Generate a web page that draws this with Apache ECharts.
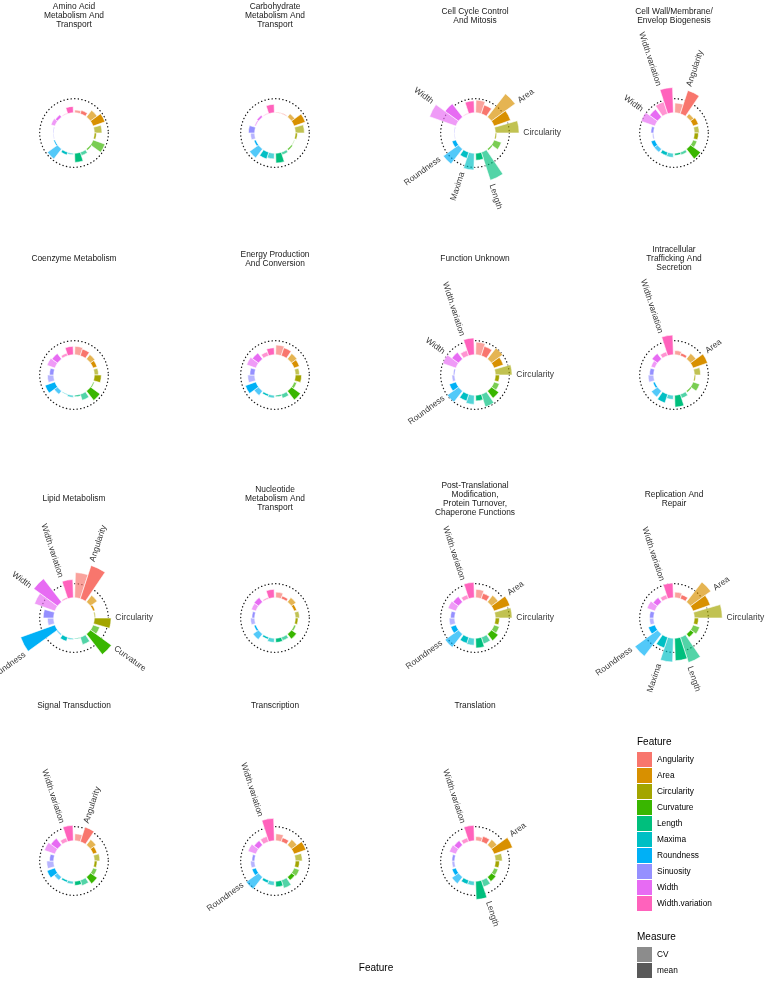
<!DOCTYPE html>
<html><head><meta charset="utf-8">
<script src="https://cdn.jsdelivr.net/npm/echarts@6/dist/echarts.min.js"></script>
<style>html,body{margin:0;padding:0;background:#fff}#c{width:767px;height:981px}</style>
</head><body><div id="c"></div>
<script>
const features = ['Angularity','Area','Circularity','Curvature','Length','Maxima','Roundness','Sinuosity','Width','Width.variation'];
const featureColors = ['#F8766D','#D89000','#A3A500','#39B600','#00BF7D','#00BFC4','#00B0F6','#9590FF','#E76BF3','#FF62BC'];
const measures = ['CV','mean'];
const measureColors = ['#8C8C8C','#595959'];

const panelTitles = [
  'Amino Acid\nMetabolism And\nTransport','Carbohydrate\nMetabolism And\nTransport','Cell Cycle Control\nAnd Mitosis','Cell Wall/Membrane/\nEnvelop Biogenesis',
  'Coenzyme Metabolism','Energy Production\nAnd Conversion','Function Unknown','Intracellular\nTrafficking And\nSecretion',
  'Lipid Metabolism','Nucleotide\nMetabolism And\nTransport','Post-Translational\nModification,\nProtein Turnover,\nChaperone Functions','Replication And\nRepair',
  'Signal Transduction','Transcription','Translation'
];

// values per panel, feature order as in `features`
const cv_amino   = [0.2,0.6,0.55,0.9,0.25,0.1,0.9,0.05,0.3,0.05];
const mean_amino = [0.25,0.9,0.15,0.1,0.65,0.2,0.1,0.05,0.2,0.45];
const cv_carb    = [0.05,0.3,0.65,0.05,0.2,0.4,0.8,0.3,0.1,0.05];
const mean_carb  = [0.05,0.85,0.15,0.1,0.7,0.5,0.15,0.45,0.15,0.6];
const cv_cycle   = [0.9,2.1,1.7,0.55,2.1,1.2,1.35,0.05,2.0,0.05];
const mean_cycle = [0.65,1.25,0.1,0.1,0.5,0.45,0.3,0.05,1.2,0.85];
const cv_wall    = [0.7,0.3,0.35,0.3,0.2,0.3,0.3,0.1,1.05,0.9];
const mean_wall  = [1.75,0.4,0.3,0.9,0.15,0.25,0.3,0.2,0.7,1.8];
const cv_coenz   = [0.6,0.4,0.3,0.1,0.45,0.15,0.3,0.45,0.6,0.2];
const mean_coenz = [0.5,0.3,0.5,0.85,0.1,0.05,0.75,0.3,0.5,0.6];
const cv_energy  = [0.7,0.5,0.3,0.2,0.3,0.2,0.4,0.5,0.7,0.3];
const mean_energy= [0.6,0.4,0.45,0.8,0.1,0.15,0.8,0.35,0.55,0.5];
const cv_unknown = [0.9,1.0,1.2,0.4,0.95,0.65,1.0,0.2,1.0,0.4];
const mean_unknown=[0.7,0.7,0.3,0.65,0.4,0.5,0.5,0.1,0.6,1.2];
const cv_intra   = [0.3,0.5,0.45,0.5,0.3,0.3,0.55,0.4,0.3,0.3];
const mean_intra = [0.2,1.1,0.1,0.1,0.85,0.65,0.15,0.3,0.5,1.4];
const cv_lipid   = [1.8,0.6,0.1,0.5,0.55,0.1,0.1,0.45,1.55,0.1];
const mean_lipid = [2.5,0.15,1.2,1.85,0.05,0.3,2.6,0.75,2.1,1.3];
const cv_nucl    = [0.4,0.4,0.3,0.15,0.25,0.3,0.5,0.3,0.35,0.1];
const mean_nucl  = [0.2,0.2,0.2,0.45,0.3,0.15,0.15,0.2,0.4,0.6];
const cv_post    = [0.6,0.6,1.2,0.4,0.5,0.5,1.2,0.4,0.6,0.3];
const mean_post  = [0.4,1.2,0.3,0.6,0.7,0.45,0.4,0.3,0.5,1.1];
const cv_repl    = [0.4,1.8,2.0,0.5,1.9,1.7,2.0,0.3,0.6,0.3];
const mean_repl  = [0.3,1.3,0.3,0.3,1.6,0.8,0.5,0.3,0.4,1.05];
const cv_signal  = [0.5,0.5,0.4,0.3,0.4,0.2,0.3,0.5,0.8,0.3];
const mean_signal= [1.1,0.3,0.2,0.6,0.3,0.15,0.6,0.3,0.6,1.1];
const cv_transc  = [0.5,0.5,0.5,0.4,0.6,0.3,1.1,0.3,0.6,0.4];
const mean_transc= [0.3,0.9,0.3,0.3,0.4,0.2,0.3,0.2,0.4,1.6];
const cv_transl  = [0.3,0.5,0.5,0.3,0.5,0.3,0.6,0.2,0.5,0.3];
const mean_transl= [0.4,1.4,0.3,0.4,1.3,0.3,0.3,0.2,0.4,1.1];

const labels_cycle   = ['Area','Circularity','Length','Maxima','Roundness','Width'];
const labels_wall    = ['Angularity','Width','Width.variation'];
const labels_unknown = ['Circularity','Roundness','Width','Width.variation'];
const labels_intra   = ['Area','Width.variation'];
const labels_lipid   = ['Angularity','Circularity','Curvature','Roundness','Width','Width.variation'];
const labels_post    = ['Area','Circularity','Roundness','Width.variation'];
const labels_repl    = ['Area','Circularity','Length','Maxima','Roundness','Width.variation'];
const labels_signal  = ['Angularity','Width.variation'];
const labels_transc  = ['Roundness','Width.variation'];
const labels_transl  = ['Area','Length','Width.variation'];

const refLine = 1; // dotted reference circle value

const panels = [
  [cv_amino,mean_amino,[]],[cv_carb,mean_carb,[]],[cv_cycle,mean_cycle,labels_cycle],[cv_wall,mean_wall,labels_wall],
  [cv_coenz,mean_coenz,[]],[cv_energy,mean_energy,[]],[cv_unknown,mean_unknown,labels_unknown],[cv_intra,mean_intra,labels_intra],
  [cv_lipid,mean_lipid,labels_lipid],[cv_nucl,mean_nucl,[]],[cv_post,mean_post,labels_post],[cv_repl,mean_repl,labels_repl],
  [cv_signal,mean_signal,labels_signal],[cv_transc,mean_transc,labels_transc],[cv_transl,mean_transl,labels_transl]
];

const colX = [74, 275, 475, 674];
const rowY = [133, 375, 618, 861];
const titleY = [16, 259, 499, 706];
const MIN = -1.45, MAX = 4, U = 14;
const FONT = '"Liberation Sans", Arial, Helvetica, sans-serif';

function rgba(hex, a){const n=parseInt(hex.slice(1),16);return 'rgba('+(n>>16&255)+','+(n>>8&255)+','+(n&255)+','+a+')';}

const polar=[], angleAxis=[], radiusAxis=[], series=[], graphic=[];
const hidden = {axisLine:{show:false},axisTick:{show:false},axisLabel:{show:false},splitLine:{show:false},splitArea:{show:false}};
panels.forEach((p,k)=>{
  const cv=p[0], mean=p[1], labs=p[2];
  const cx=colX[k%4], cy=rowY[Math.floor(k/4)];
  const pi=polar.length;
  polar.push({center:[cx,cy], radius:(MAX-MIN)*U});
  angleAxis.push(Object.assign({polarIndex:pi,type:'category',data:features,startAngle:90,clockwise:true},hidden));
  radiusAxis.push(Object.assign({polarIndex:pi,type:'value',min:MIN,max:MAX},hidden));
  const pj=polar.length;
  polar.push({center:[cx,cy], radius:(refLine-MIN)*U});
  angleAxis.push({polarIndex:pj,type:'value',min:0,max:360,startAngle:90,axisLine:{show:true,lineStyle:{color:'#1a1a1a',width:1.3,type:[0.3,3.3],cap:'round'}},axisTick:{show:false},axisLabel:{show:false},splitLine:{show:false}});
  radiusAxis.push(Object.assign({polarIndex:pj,type:'value',min:0,max:1,show:false},hidden));
  [cv,mean].forEach((vals,m)=>{
    series.push({type:'bar',name:measures[m],coordinateSystem:'polar',polarIndex:pi,barCategoryGap:'10%',barGap:'0%',
      data:vals.map((v,i)=>({value:v,itemStyle:{color:m===0?rgba(featureColors[i],0.68):featureColors[i]}})),
      itemStyle:{borderColor:'#fff',borderWidth:0.6},silent:true,animation:false});
  });
  series.push({type:'scatter',coordinateSystem:'polar',polarIndex:pi,symbolSize:0.1,itemStyle:{color:'transparent'},silent:true,animation:false,
    data:labs.map(name=>{const i=features.indexOf(name);const th=18+36*i;const right=th<180;
      return {value:[Math.max(cv[i],mean[i])+0.3,name],label:{show:true,position:'inside',formatter:name,rotate:right?90-th:270-th,
        align:right?'left':'right',verticalAlign:'middle',fontSize:8.5,fontFamily:FONT,color:'#000'}};})});
  graphic.push({type:'text',x:cx,y:titleY[Math.floor(k/4)],style:{text:panelTitles[k],textAlign:'center',textVerticalAlign:'middle',font:'8.4px '+FONT,lineHeight:9,fill:'#1a1a1a'}});
});
// legend
const LX=637;
graphic.push({type:'text',x:LX,y:742,style:{text:'Feature',textAlign:'left',textVerticalAlign:'middle',font:'10px '+FONT,fill:'#000'}});
features.forEach((f,i)=>{
  graphic.push({type:'rect',shape:{x:LX,y:752+16*i,width:15,height:15},style:{fill:featureColors[i]}});
  graphic.push({type:'text',x:LX+20,y:759.5+16*i,style:{text:f,textAlign:'left',textVerticalAlign:'middle',font:'8.3px '+FONT,fill:'#000'}});
});
graphic.push({type:'text',x:LX,y:937,style:{text:'Measure',textAlign:'left',textVerticalAlign:'middle',font:'10px '+FONT,fill:'#000'}});
measures.forEach((m,i)=>{
  graphic.push({type:'rect',shape:{x:LX,y:947+16*i,width:15,height:15},style:{fill:measureColors[i]}});
  graphic.push({type:'text',x:LX+20,y:955+16*i,style:{text:m,textAlign:'left',textVerticalAlign:'middle',font:'8.3px '+FONT,fill:'#000'}});
});
graphic.push({type:'text',x:376,y:968,style:{text:'Feature',textAlign:'center',textVerticalAlign:'middle',font:'10px '+FONT,fill:'#000'}});

const chart=echarts.init(document.getElementById('c'),null,{renderer:'canvas',width:767,height:981});
chart.setOption({backgroundColor:'#fff',animation:false,polar,angleAxis,radiusAxis,series,graphic});
</script></body></html>
